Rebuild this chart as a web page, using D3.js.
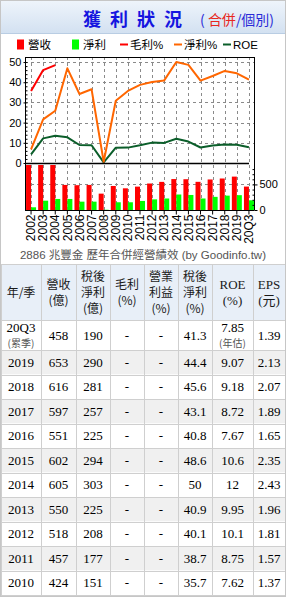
<!DOCTYPE html>
<html>
<head>
<meta charset="utf-8">
<script src="https://cdn.jsdelivr.net/npm/d3@7"></script>
<style>
  body { margin:0; background:#fff; }
  svg { display:block; }
  .axis text { font-family:"Liberation Sans", Arial, sans-serif; font-size:11px; fill:#000; }
  .axis path, .axis line { stroke:#000; }
</style>
</head>
<body>
<svg id="chart" width="292" height="600"></svg>
<script>
// chart data (億 / %)
const categories = ['2002','2003','2004','2005','2006','2007','2008','2009','2010','2011',
                    '2012','2013','2014','2015','2016','2017','2018','2019','20Q3'];
const revenue    = [900, 900, 900, 490, 485, 490, 320, 470, 424, 457, 518, 550, 605, 602, 551, 597, 616, 653, 458];
const netIncome  = [53, 182, 216, 216, 163, 163, 5, 151, 151, 177, 208, 225, 303, 294, 225, 257, 281, 290, 190];
const grossMargin = [35.6, 46, 48.5, null, null, null, null, null, null, null,
                     null, null, null, null, null, null, null, null, null];
const netMargin  = [6.8, 21.6, 25.9, 46.9, 34.2, 36.5, 0.6, 30.8, 35.7, 38.7, 40.1, 40.9, 50, 48.6, 40.8, 43.1, 45.6, 44.4, 41.3];
const roe        = [4.3, 12.2, 13.5, 12.7, 8.9, 8.8, 0.3, 7.6, 7.62, 8.75, 10.1, 9.95, 12, 10.6, 7.67, 8.72, 9.18, 9.07, 7.85];

// table data
const colHeaders = [['年/季'],['營收','(億)'],['稅後','淨利','(億)'],['毛利','(%)'],
                    ['營業','利益','(%)'],['稅後','淨利','(%)'],['ROE','(%)'],['EPS','(元)']];
const tableYears     = ['20Q3','2019','2018','2017','2016','2015','2014','2013','2012','2011','2010'];
const tableRevenue   = ['458','653','616','597','551','602','605','550','518','457','424'];
const tableNet       = ['190','290','281','257','225','294','303','225','208','177','151'];
const tableGross     = ['-','-','-','-','-','-','-','-','-','-','-'];
const tableOper      = ['-','-','-','-','-','-','-','-','-','-','-'];
const tableNetMargin = ['41.3','44.4','45.6','43.1','40.8','48.6','50','40.9','40.1','38.7','35.7'];
const tableROE       = ['7.85','9.07','9.18','8.72','7.67','10.6','12','9.95','10.1','8.75','7.62'];
const tableEPS       = ['1.39','2.13','2.07','1.89','1.65','2.35','2.43','1.96','1.81','1.57','1.37'];

const svg = d3.select('#chart');
const sans = '"Liberation Sans","Noto Sans CJK TC",Arial,sans-serif';
const cjk = '"Noto Sans CJK TC","Liberation Sans",sans-serif';
const serif = '"Liberation Serif","Noto Sans CJK TC",serif';

// ---- frame + title bar
const defs = svg.append('defs');
const grad = defs.append('linearGradient').attr('id','tbar').attr('x1',0).attr('y1',0).attr('x2',0).attr('y2',1);
grad.append('stop').attr('offset','0%').attr('stop-color','#eef4fb');
grad.append('stop').attr('offset','100%').attr('stop-color','#d3e1f1');

svg.append('rect').attr('x',1).attr('y',1).attr('width',284).attr('height',32).attr('fill','url(#tbar)');
svg.append('line').attr('x1',1).attr('x2',285).attr('y1',33.5).attr('y2',33.5).attr('stroke','#b9cde3');

// title, one glyph at a time so the wide spacing holds
const title = svg.append('text').attr('y',26)
  .style('font-family',cjk).style('font-size','18px').style('font-weight','bold').attr('fill','#1515e0');
title.selectAll('tspan').data('獲利狀況'.split('')).enter().append('tspan')
  .attr('x', (d, i) => 83 + i * 27).text(d => d);

const sub = svg.append('text').attr('x',200).attr('y',25)
  .style('font-family',cjk).style('font-size','14px');
sub.append('tspan').attr('fill','#2a2ad8').text('( ');
sub.append('tspan').attr('fill','#e8281e').text('合併');
sub.append('tspan').attr('fill','#2a2ad8').text('/個別)');

// ---- legend
const legendItems = [
  {name:'營收', color:'#ff0000', type:'box', x:17},
  {name:'淨利', color:'#00ff00', type:'box', x:72},
  {name:'毛利%', color:'#ff0000', type:'line', x:120},
  {name:'淨利%', color:'#ff6600', type:'line', x:174},
  {name:'ROE', color:'#0b5e2a', type:'line', x:223}
];
const lg = svg.append('g').selectAll('g').data(legendItems).enter().append('g')
  .attr('transform', d => 'translate(' + d.x + ',0)');
lg.filter(d => d.type === 'box').append('rect')
  .attr('x',0).attr('y',39.5).attr('width',7).attr('height',10).attr('fill', d => d.color);
lg.filter(d => d.type === 'line').append('line')
  .attr('x1',0).attr('x2',8).attr('y1',44.5).attr('y2',44.5).attr('stroke', d => d.color).attr('stroke-width',2);
lg.append('text').attr('x', d => d.type === 'box' ? 11 : 10).attr('y',49)
  .style('font-family',sans).style('font-size','11.5px').attr('fill','#000').text(d => d.name);

// ---- plot geometry
const left = 25, right = 254;
const upTop = 57, upBottom = 163;
const lowTop = 165, lowBottom = 210;

const x = d3.scaleBand().domain(categories).range([left, 255]);
const cx = d => x(d) + x.bandwidth() / 2;
const yUp = d3.scaleLinear().domain([0, 52.5]).range([upBottom, upTop]);
const yLow = d3.scaleLinear().domain([0, 880]).range([lowBottom, lowTop]);

// grid
const grid = svg.append('g').attr('stroke','#8a8a8a').attr('stroke-dasharray','3,3').attr('stroke-width',1);
grid.selectAll('.vg').data(categories).enter().append('line')
  .attr('x1', d => Math.round(cx(d)) + 0.5).attr('x2', d => Math.round(cx(d)) + 0.5)
  .attr('y1', upTop).attr('y2', lowBottom);
grid.selectAll('.hg').data([10,20,30,40,50]).enter().append('line')
  .attr('x1', left).attr('x2', right)
  .attr('y1', d => Math.round(yUp(d)) + 0.5).attr('y2', d => Math.round(yUp(d)) + 0.5);
grid.append('line').attr('x1', left).attr('x2', right)
  .attr('y1', Math.round(yLow(500)) + 0.5).attr('y2', Math.round(yLow(500)) + 0.5);

// bars (clipped to lower panel)
defs.append('clipPath').attr('id','lowclip').append('rect')
  .attr('x', left).attr('y', lowTop).attr('width', right - left).attr('height', lowBottom - lowTop);
const bars = svg.append('g').attr('clip-path','url(#lowclip)');
bars.selectAll('.rev').data(categories).enter().append('rect')
  .attr('x', d => cx(d) - 5).attr('width', 5)
  .attr('y', (d, i) => yLow(revenue[i])).attr('height', (d, i) => lowBottom - yLow(revenue[i]))
  .attr('fill','#ff0000');
bars.selectAll('.net').data(categories).enter().append('rect')
  .attr('x', d => cx(d)).attr('width', 5)
  .attr('y', (d, i) => yLow(netIncome[i])).attr('height', (d, i) => lowBottom - yLow(netIncome[i]))
  .attr('fill','#00ff00');

// lines
function drawLine(values, color) {
  const line = d3.line().defined(d => d[1] != null).x(d => cx(d[0])).y(d => yUp(d[1]));
  svg.append('path').datum(categories.map((c, i) => [c, values[i]]))
    .attr('d', line).attr('fill','none').attr('stroke', color).attr('stroke-width',2)
    .attr('stroke-linejoin','round');
}
drawLine(roe, '#0b5e2a');
drawLine(netMargin, '#ff6600');
drawLine(grossMargin, '#ff0000');

// frame lines
const frame = svg.append('g').attr('stroke','#000').attr('fill','none');
frame.append('line').attr('x1', left).attr('x2', right + 0.5).attr('y1', upTop + 0.5).attr('y2', upTop + 0.5);
frame.append('line').attr('x1', right + 0.5).attr('x2', right + 0.5).attr('y1', upTop).attr('y2', lowBottom);
frame.append('line').attr('x1', left).attr('x2', 249).attr('y1', upBottom + 0.5).attr('y2', upBottom + 0.5).attr('stroke-width',1.5);

// axes
const axUp = svg.append('g').attr('class','axis').attr('transform','translate(' + (left + 0.5) + ',0)')
  .call(d3.axisLeft(yUp).tickValues([0,10,20,30,40,50]).tickSize(2).tickPadding(2).tickSizeOuter(0));
axUp.select('.domain').attr('d', 'M0,' + upTop + 'V' + lowBottom);
svg.append('g').attr('class','axis').attr('transform','translate(' + (left + 0.5) + ',0)')
  .call(d3.axisRight(yUp).tickValues(d3.range(0, 52, 2)).tickSize(2).tickFormat('').tickSizeOuter(0))
  .select('.domain').remove();

const axLow = svg.append('g').attr('class','axis').attr('transform','translate(' + (right + 0.5) + ',0)')
  .call(d3.axisRight(yLow).tickValues([0,500]).tickSize(3).tickPadding(2).tickSizeOuter(0));
axLow.select('.domain').remove();
svg.append('g').attr('class','axis').attr('transform','translate(' + (right + 0.5) + ',0)')
  .call(d3.axisLeft(yLow).tickValues(d3.range(100, 900, 100)).tickSize(2).tickFormat('').tickSizeOuter(0))
  .select('.domain').remove();

const axX = svg.append('g').attr('class','axis').attr('transform','translate(0,' + (lowBottom + 0.5) + ')')
  .call(d3.axisBottom(x).tickSize(4).tickSizeOuter(0));
axX.select('.domain').attr('d', 'M' + left + ',0H' + (right + 0.5));
axX.selectAll('text').style('font-size','12px')
  .attr('transform','rotate(-90)').attr('text-anchor','end')
  .attr('x', -4).attr('y', 0).attr('dy','0.35em');

// caption
svg.append('text').attr('x', 143).attr('y', 259).attr('text-anchor','middle')
  .style('font-family',sans).style('font-size','11.5px').attr('fill','#555')
  .text('2886 兆豐金 歷年合併經營績效 (by Goodinfo.tw)');

// ---- table
const colX = [1, 41, 76, 110, 144, 178, 212, 253, 285];
const headTop = 264, headBottom = 320, firstRowBottom = 350, rowH = 24.5;
const rowTop = i => i === 0 ? headBottom : firstRowBottom + (i - 1) * rowH;
const rowBot = i => i === 0 ? firstRowBottom : firstRowBottom + i * rowH;
const colMid = j => (colX[j] + colX[j + 1]) / 2;

const tbl = svg.append('g');
tbl.append('rect').attr('x', 1).attr('y', headTop).attr('width', 284).attr('height', headBottom - headTop)
  .attr('fill','#e8eff8');
tbl.selectAll('.rowbg').data(tableYears).enter().append('rect')
  .attr('x', 1).attr('width', 284)
  .attr('y', (d, i) => rowTop(i)).attr('height', (d, i) => rowBot(i) - rowTop(i))
  .attr('fill', (d, i) => i % 2 === 1 ? '#f0f0f0' : '#fff');

const hd = tbl.selectAll('.hd').data(colHeaders).enter().append('text')
  .attr('text-anchor','middle').attr('fill','#1a1a1a')
  .style('font-family', (d, j) => j >= 6 ? serif : cjk)
  .style('font-size', (d, j) => j >= 6 ? '13px' : '12px');
hd.selectAll('tspan').data((d, j) => d.map(t => ({t: t, j: j, n: d.length}))).enter().append('tspan')
  .attr('x', d => colMid(d.j))
  .attr('y', (d, k) => 297 + (k - (d.n - 1) / 2) * 16)
  .text(d => d.t);

const rows = tableYears.map((y, i) => [y, tableRevenue[i], tableNet[i], tableGross[i], tableOper[i],
                                        tableNetMargin[i], tableROE[i], tableEPS[i]]);
rows.forEach((r, i) => {
  const mid = (rowTop(i) + rowBot(i)) / 2;
  r.forEach((v, j) => {
    const twoLine = i === 0 && (j === 0 || j === 6);
    const t = tbl.append('text').attr('text-anchor','middle').attr('x', colMid(j))
      .style('font-family', serif).style('font-size','13px').attr('fill','#000');
    if (twoLine) {
      t.attr('y', mid - 3).text(v);
      tbl.append('text').attr('text-anchor','middle').attr('x', colMid(j)).attr('y', mid + 12)
        .style('font-family', cjk).style('font-size','10px').attr('fill','#555')
        .text(j === 0 ? '(累季)' : '(年估)');
    } else {
      t.attr('y', mid + 4.5).text(v);
    }
  });
});

// table grid lines
const gl = tbl.append('g').attr('stroke','#cfcfcf').attr('stroke-width',1);
gl.selectAll('.vl').data(colX).enter().append('line')
  .attr('x1', d => d + 0.5).attr('x2', d => d + 0.5).attr('y1', headTop).attr('y2', rowBot(tableYears.length - 1));
const hLines = [headTop, headBottom].concat(tableYears.map((d, i) => rowBot(i)));
gl.selectAll('.hl').data(hLines).enter().append('line')
  .attr('x1', 1).attr('x2', 285.5).attr('y1', d => Math.round(d) + 0.5).attr('y2', d => Math.round(d) + 0.5);

// outer box
svg.append('rect').attr('x', 0.5).attr('y', 0.5).attr('width', 285).attr('height', 596)
  .attr('fill','none').attr('stroke','#c6c6c6');
</script>
</body>
</html>
